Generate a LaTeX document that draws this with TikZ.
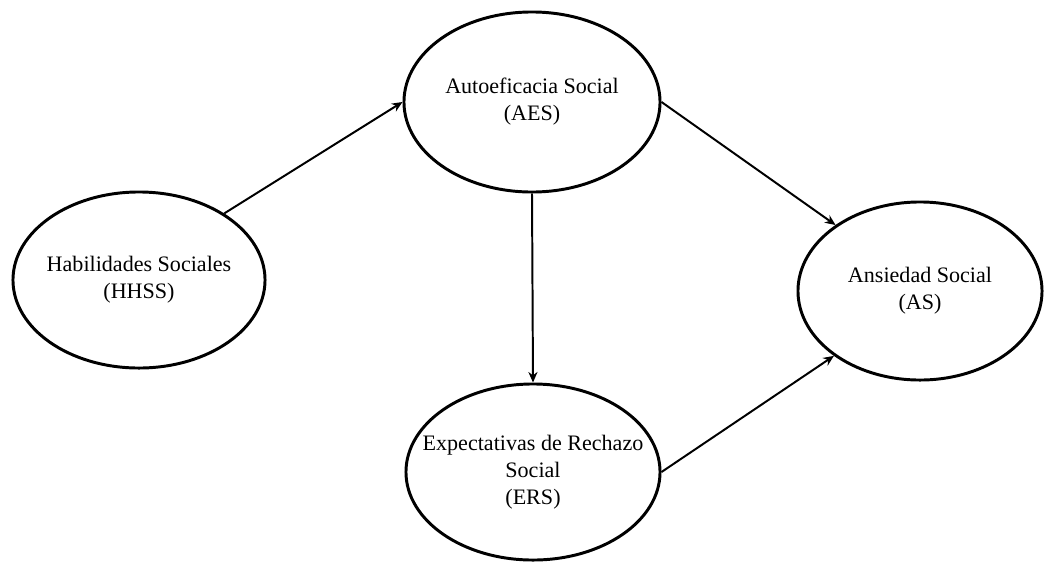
\documentclass[tikz,border=0pt]{standalone}
\usepackage{fontspec}
\setmainfont{Liberation Serif}
\usetikzlibrary{shapes.geometric,arrows.meta}

\begin{document}
\begin{tikzpicture}[x=0.025cm,y=-0.025cm,
    elipse/.style={draw, ellipse, line width=2.1pt, inner sep=0pt},
    texto/.style={align=center, font=\fontsize{15.7}{19.2}\selectfont},
    flecha/.style={-{Stealth[length=7.5pt,width=6.5pt]}, line width=1.4pt}]
    \useasboundingbox (0,0) rectangle (1046,561);

    % Elipses
    \node[elipse, minimum width=6.3cm, minimum height=4.4cm,
      label={[texto]center:Habilidades Sociales\\(HHSS)}] (hhss) at (139,280) {};
    \node[elipse, minimum width=6.4cm, minimum height=4.5cm,
      label={[texto]center:Autoeficacia Social\\(AES)}] (aes) at (532,102) {};
    \node[elipse, minimum width=6.35cm, minimum height=4.4cm,
      label={[texto]center:Expectativas de Rechazo\\Social\\(ERS)}] (ers) at (533,472) {};
    \node[elipse, minimum width=6.1cm, minimum height=4.45cm,
      label={[texto]center:Ansiedad Social\\(AS)}] (as) at (920,291) {};

    % Flechas
    \draw[flecha] (hhss.38) -- (aes.west);
    \draw[flecha] (aes.east) -- (as.142);
    \draw[flecha] (aes.south) -- (ers.north);
    \draw[flecha] (ers.east) -- (as.217);
\end{tikzpicture}
\end{document}
